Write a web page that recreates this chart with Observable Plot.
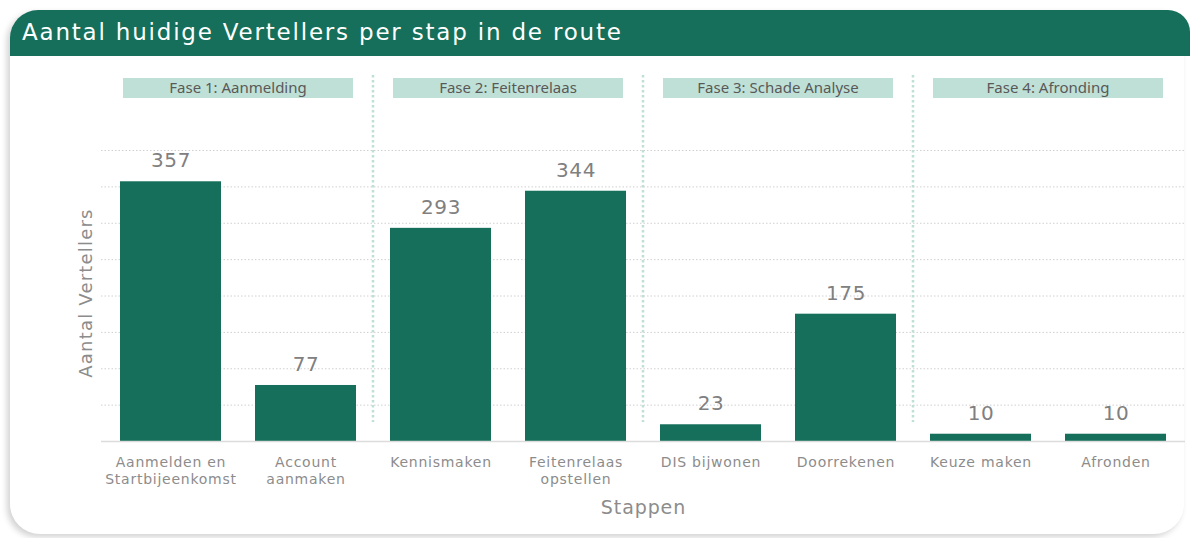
<!DOCTYPE html>
<html>
<head>
<meta charset="utf-8">
<script src="https://cdn.jsdelivr.net/npm/d3@7"></script>
<script src="https://cdn.jsdelivr.net/npm/@observablehq/plot@0.6"></script>
<style>
  html, body { margin: 0; padding: 0; background: #fff; width: 1190px; height: 538px; overflow: hidden; }
  #card {
    position: absolute; left: 10px; top: 10px; width: 1174px; height: 524px;
    background: #fff; border-radius: 28px 22px 30px 30px;
    box-shadow: -3px 3px 6px rgba(0,0,0,0.18);
  }
  #titlebar {
    position: absolute; left: 10px; top: 10px; width: 1180px; height: 46px;
    background: #156f5a; border-radius: 28px 22px 0 0;
  }
  #title {
    position: absolute; left: 22px; top: 11px; color: #fff;
    font-family: 'DejaVu Sans', sans-serif; font-size: 23px; letter-spacing: 1.8px;
    line-height: 42px; white-space: nowrap;
  }
  #chart { position: absolute; left: 0; top: 0; }
</style>
</head>
<body>
<div id="card"></div>
<div id="titlebar"></div>
<div id="title">Aantal huidige Vertellers per stap in de route</div>
<div id="chart"></div>
<script>
const steps = ["Aanmelden en Startbijeenkomst", "Account aanmaken", "Kennismaken", "Feitenrelaas opstellen", "DIS bijwonen", "Doorrekenen", "Keuze maken", "Afronden"];
const stepLabels = ["Aanmelden en\nStartbijeenkomst", "Account\naanmaken", "Kennismaken", "Feitenrelaas\nopstellen", "DIS bijwonen", "Doorrekenen", "Keuze maken", "Afronden"];
const values = [357, 77, 293, 344, 23, 175, 10, 10];
const phases = ["Fase 1: Aanmelding", "Fase 2: Feitenrelaas", "Fase 3: Schade Analyse", "Fase 4: Afronding"];
const phaseFirst = [0, 2, 4, 6];
const phaseLast = [1, 3, 5, 7];
const gridTicks = [50, 100, 150, 200, 250, 300, 350, 400];

const data = steps.map((s, i) => ({step: s, label: stepLabels[i], value: values[i]}));
const green = "#156f5a";
const axisFont = "'DejaVu Sans', sans-serif";

const chart = Plot.plot({
  width: 1190,
  height: 538,
  marginLeft: 101,
  marginRight: 5,
  marginTop: 150,
  marginBottom: 97,
  style: {background: "transparent", overflow: "visible", fontFamily: axisFont},
  x: {domain: steps, axis: null, paddingInner: 0.255, paddingOuter: 0.1275},
  y: {domain: [0, 400], axis: null},
  marks: [
    Plot.ruleY(gridTicks, {stroke: "#d0d0d0", strokeWidth: 1, strokeDasharray: "1.5,2"}),
    Plot.barY(data, {x: "step", y: "value", fill: green}),
    Plot.ruleY([0], {stroke: "#dcdcdc", strokeWidth: 1.5}),
    Plot.text(data, {x: "step", y: "value", text: d => String(d.value), dy: -21,
      fill: "#808080", fontSize: 20, fontFamily: axisFont}),
    Plot.text(data, {x: "step", text: "label", frameAnchor: "bottom", lineAnchor: "top", dy: 14,
      lineHeight: 1.2, fill: "#8c8c8c", fontSize: 14, fontFamily: axisFont}),
    Plot.text(["Stappen"], {frameAnchor: "bottom", dy: 72,
      fill: "#8c8c8c", fontSize: 19, fontFamily: axisFont}),
    Plot.text(["Aantal Vertellers"], {frameAnchor: "left", textAnchor: "middle", dx: -15, dy: -3, rotate: -90,
      fill: "#8c8c8c", fontSize: 18, fontFamily: axisFont})
  ]
});
document.getElementById("chart").appendChild(chart);

const svg = d3.select(chart);
// letter spacing to match the wider original typeface
const spacing = {"20": "0.6px", "14": "0.75px", "19": "0.9px", "18": "1.2px"};
svg.selectAll("g").each(function() {
  const fs = this.getAttribute("font-size");
  if (fs && spacing[fs]) d3.select(this).selectAll("text").style("letter-spacing", spacing[fs]);
});

// Phase headers and separators positioned with Plot's own x scale
const xs = chart.scale("x");
const bw = xs.bandwidth;
const gap = xs.step - bw;
const g = svg.append("g");
phases.forEach((p, i) => {
  const x0 = xs.apply(steps[phaseFirst[i]]) + 3;
  const x1 = xs.apply(steps[phaseLast[i]]) + bw - 3;
  g.append("rect").attr("x", x0).attr("y", 78).attr("width", x1 - x0).attr("height", 20).attr("fill", "#bfe0d6");
  g.append("text").attr("x", (x0 + x1) / 2).attr("y", 88).attr("dy", "0.36em")
    .attr("text-anchor", "middle").attr("fill", "#595959")
    .attr("font-family", "'Noto Sans', sans-serif").attr("font-size", 15).text(p);
  if (i > 0) {
    const sx = xs.apply(steps[phaseFirst[i]]) - gap / 2;
    g.append("line").attr("x1", sx).attr("x2", sx).attr("y1", 75).attr("y2", 422)
      .attr("stroke", "#bfe0d6").attr("stroke-width", 2.5).attr("stroke-dasharray", "2.5,2.5");
  }
});
</script>
</body>
</html>
